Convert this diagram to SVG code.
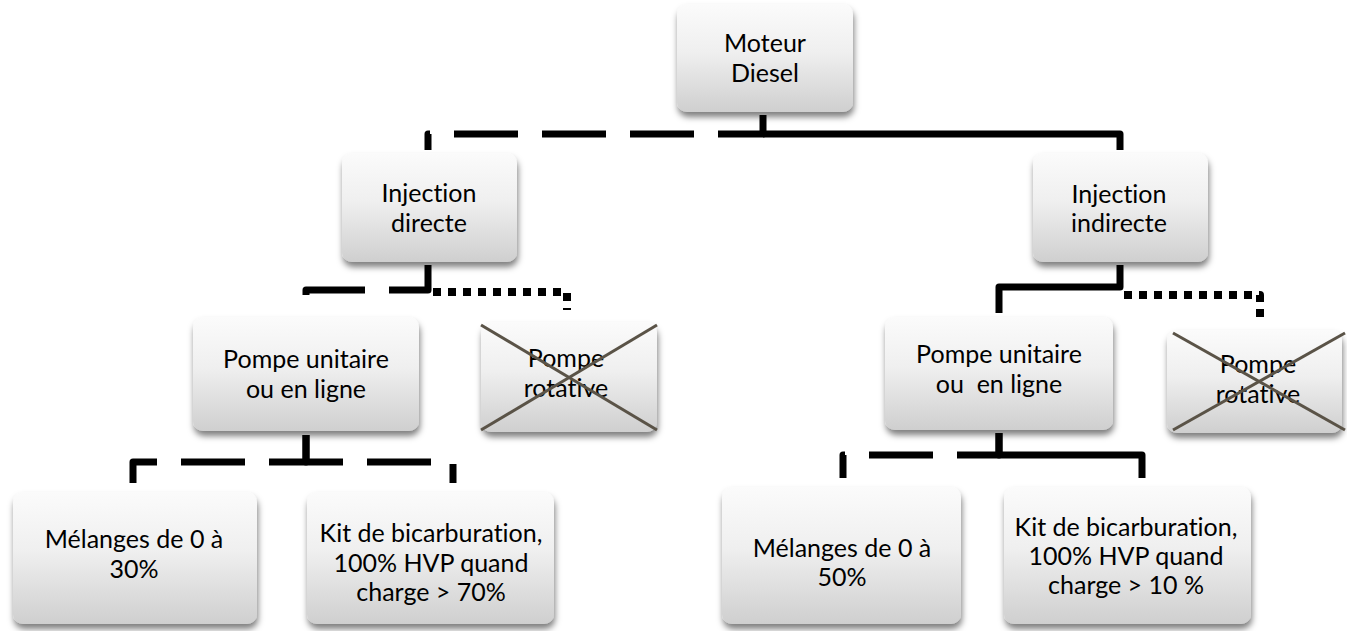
<svg xmlns="http://www.w3.org/2000/svg" width="1347" height="631" viewBox="0 0 1347 631">
<defs>
<linearGradient id="g" x1="0" y1="0" x2="0" y2="1">
<stop offset="0" stop-color="#fbfbfb"/>
<stop offset="0.45" stop-color="#efefef"/>
<stop offset="1" stop-color="#cfcfcf"/>
</linearGradient>
<filter id="sh" x="-10%" y="-10%" width="125%" height="135%">
<feDropShadow dx="1" dy="5" stdDeviation="3" flood-color="#000" flood-opacity="0.5"/>
</filter>
</defs>
<style>
.box{fill:url(#g);filter:url(#sh);}
.t{font-family:Lato,"Liberation Sans",sans-serif;font-size:25px;fill:#000;text-anchor:middle;white-space:pre;font-variant-ligatures:none;}
.c{fill:none;stroke:#000;stroke-width:7;stroke-linejoin:round;}
.da{stroke-dasharray:64 24;}
.do{stroke-dasharray:8 7;stroke-width:8;}
.x{stroke:#5a5347;stroke-width:3;}
</style>
<g id="connectors">
<path class="c da" d="M763 115 V134 H428 V150"/>
<path class="c" d="M763 134 H1120 V150"/>
<path class="c da" d="M428 265 V290 H306 V298"/>
<path class="c do" d="M433 292 H567 V310"/>
<path class="c" d="M1120 265 V287 H999 V313"/>
<path class="c do" d="M1124 295 H1260 V322"/>
<path class="c da" d="M306 435 V462 H133 V483"/>
<path class="c da" d="M306 435 V462 H453 V483"/>
<path class="c da" d="M999 433 V455 H843 V478"/>
<path class="c" d="M999 433 V455 H1142 V478"/>
</g>
<g id="moteur">
<rect class="box" x="677" y="4" width="176" height="108" rx="10"/>
<text class="t" x="765" y="52">Moteur</text>
<text class="t" x="765" y="82">Diesel</text>
</g>
<g id="inj-directe">
<rect class="box" x="342" y="153" width="175" height="109" rx="10"/>
<text class="t" x="429" y="202">Injection</text>
<text class="t" x="429" y="232">directe</text>
</g>
<g id="inj-indirecte">
<rect class="box" x="1033" y="153" width="175" height="109" rx="10"/>
<text class="t" x="1119" y="203">Injection</text>
<text class="t" x="1119" y="232">indirecte</text>
</g>
<g id="pompe-unit-left">
<rect class="box" x="193" y="317" width="226" height="114" rx="10"/>
<text class="t" x="306" y="368">Pompe unitaire</text>
<text class="t" x="306" y="398">ou en ligne</text>
</g>
<g id="pompe-rot-left">
<rect class="box" x="481" y="322" width="176" height="110" rx="10"/>
<text class="t" x="566" y="367">Pompe</text>
<text class="t" x="566" y="397">rotative</text>
<line class="x" x1="481" y1="325" x2="657" y2="430"/>
<line class="x" x1="657" y1="325" x2="481" y2="430"/>
</g>
<g id="pompe-unit-right">
<rect class="box" x="885" y="317" width="228" height="113" rx="10"/>
<text class="t" x="999" y="363">Pompe unitaire</text>
<text class="t" x="999" y="393">ou  en ligne</text>
</g>
<g id="pompe-rot-right">
<rect class="box" x="1167" y="330" width="175" height="103" rx="10"/>
<text class="t" x="1258" y="373">Pompe</text>
<text class="t" x="1258" y="403">rotative</text>
<line class="x" x1="1173" y1="333" x2="1345" y2="430"/>
<line class="x" x1="1345" y1="333" x2="1173" y2="430"/>
</g>
<g id="melanges-left">
<rect class="box" x="13" y="492" width="244" height="132" rx="10"/>
<text class="t" x="134" y="548">Mélanges de 0 à</text>
<text class="t" x="134" y="578">30%</text>
</g>
<g id="kit-left">
<rect class="box" x="307" y="492" width="247" height="132" rx="10"/>
<text class="t" x="431" y="542">Kit de bicarburation,</text>
<text class="t" x="431" y="572">100% HVP quand</text>
<text class="t" x="431" y="601">charge &gt; 70%</text>
</g>
<g id="melanges-right">
<rect class="box" x="722" y="487" width="239" height="137" rx="10"/>
<text class="t" x="842" y="557">Mélanges de 0 à</text>
<text class="t" x="842" y="586">50%</text>
</g>
<g id="kit-right">
<rect class="box" x="1004" y="487" width="247" height="137" rx="10"/>
<text class="t" x="1126" y="536">Kit de bicarburation,</text>
<text class="t" x="1126" y="565">100% HVP quand</text>
<text class="t" x="1126" y="594">charge &gt; 10 %</text>
</g>
</svg>
